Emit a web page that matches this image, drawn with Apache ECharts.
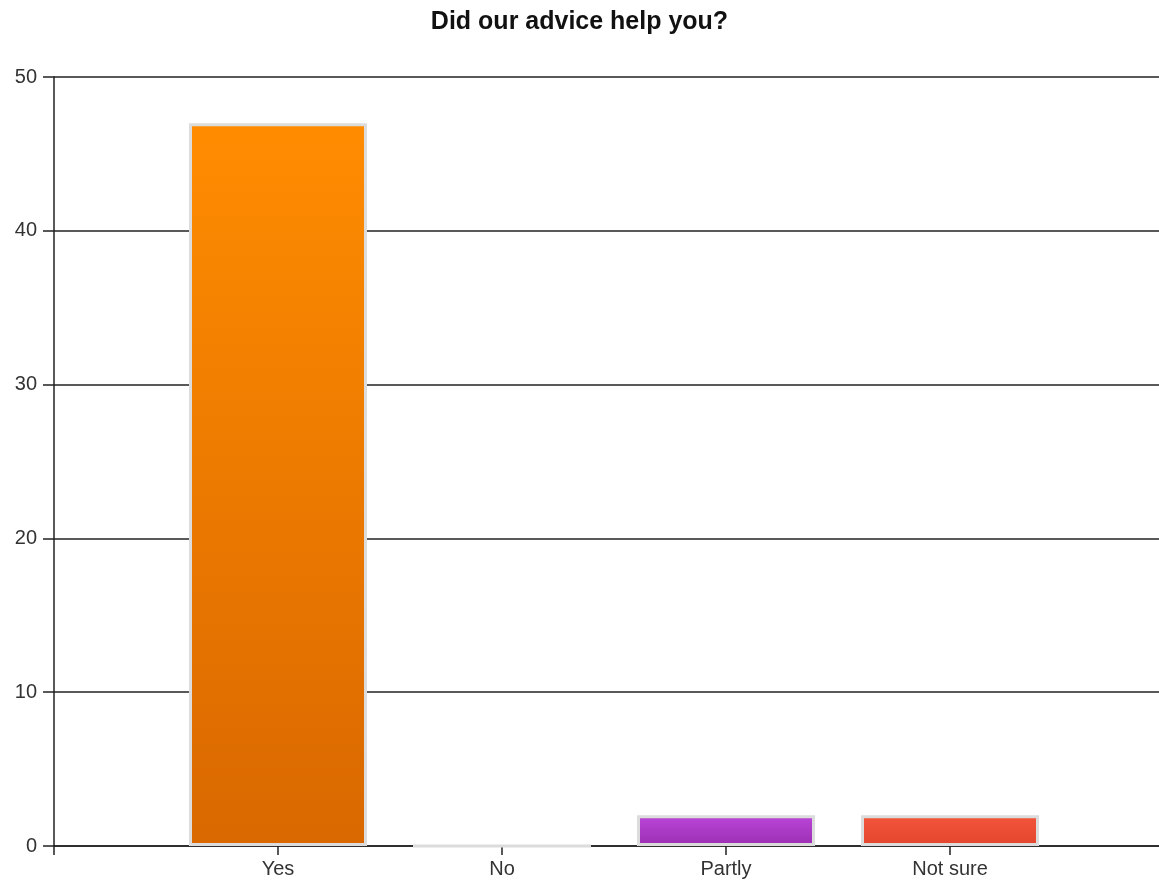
<!DOCTYPE html>
<html>
<head>
<meta charset="utf-8">
<title>Did our advice help you?</title>
<script src="https://cdn.jsdelivr.net/npm/echarts@6/dist/echarts.min.js"></script>
<style>
  html, body { margin: 0; padding: 0; background: #fff; }
  #chart { width: 1159px; height: 883px; }
</style>
</head>
<body>
<div id="chart"></div>
<script>
// Survey answers and response counts
const categories = ['Yes', 'No', 'Partly', 'Not sure'];
const counts = [47, 0, 2, 2];
const yTicks = { min: 0, max: 50, interval: 10 };

// Gradient colours per answer (top, bottom)
const barColors = [
  ['#ff8c00', '#d96800'],
  ['#bbbbbb', '#999999'],
  ['#bb46d8', '#9a2fb2'],
  ['#f2553a', '#e2462e']
];

// An empty slot on each side keeps the bars away from the axis ends
const axisData = [''].concat(categories, ['']);
const seriesData = ['-'].concat(
  counts.map((v, i) => ({
    value: v,
    itemStyle: {
      color: new echarts.graphic.LinearGradient(0, 0, 0, 1, [
        { offset: 0, color: barColors[i][0] },
        { offset: 1, color: barColors[i][1] }
      ])
    }
  })),
  ['-']
);

const FONT = 'Liberation Sans, Arial, sans-serif';

const chart = echarts.init(document.getElementById('chart'), null, { renderer: 'canvas' });
chart.setOption({
  backgroundColor: '#ffffff',
  animation: false,
  title: {
    text: 'Did our advice help you?',
    left: 'center',
    top: 5,
    textStyle: {
      fontFamily: FONT,
      fontSize: 25,
      fontWeight: 'bold',
      color: '#111'
    }
  },
  // the plot runs a little past the right edge of the canvas
  grid: { left: 54, width: 1120, top: 77, bottom: 37, containLabel: false, outerBoundsMode: 'none' },
  xAxis: {
    type: 'category',
    data: axisData,
    boundaryGap: false,
    axisLine: { show: true, lineStyle: { color: '#222', width: 1.5 } },
    axisTick: { show: true, length: 9, lineStyle: { color: '#222', width: 1.5 } },
    axisLabel: {
      margin: 13,
      fontFamily: FONT,
      fontSize: 20,
      color: '#333'
    },
    splitLine: { show: false }
  },
  yAxis: {
    type: 'value',
    min: yTicks.min,
    max: yTicks.max,
    interval: yTicks.interval,
    axisLine: { show: true, lineStyle: { color: '#222', width: 1.5 } },
    axisTick: { show: true, length: 11, lineStyle: { color: '#222', width: 1.5 } },
    axisLabel: {
      margin: 17,
      fontFamily: FONT,
      fontSize: 20,
      color: '#333'
    },
    splitLine: { show: true, lineStyle: { color: '#222', width: 1.5 } }
  },
  series: [{
    type: 'bar',
    data: seriesData,
    barWidth: 178,
    itemStyle: { borderColor: '#dcdcdc', borderWidth: 3 }
  }]
});
</script>
</body>
</html>
